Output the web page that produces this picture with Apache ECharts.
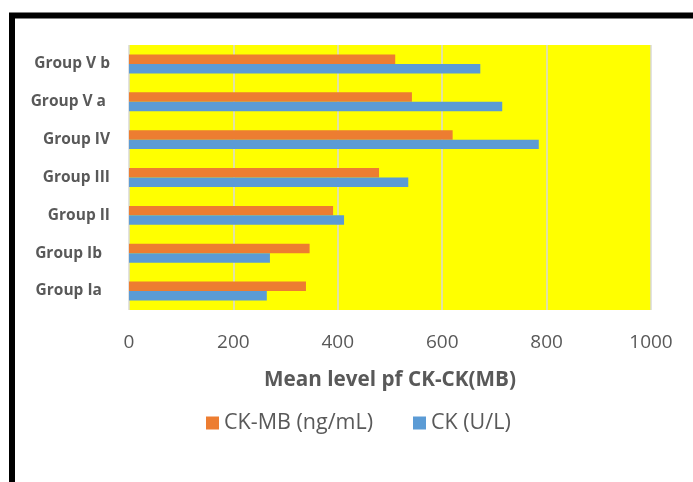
<!DOCTYPE html>
<html>
<head>
<meta charset="utf-8">
<script src="https://cdn.jsdelivr.net/npm/echarts@6/dist/echarts.min.js"></script>
<style>html,body{margin:0;padding:0;background:#fff}#c{width:693px;height:482px}</style>
</head>
<body>
<div id="c"></div>
<script>
const categories = ['Group Ia  ', 'Group Ib  ', 'Group II', 'Group III', 'Group IV', 'Group V a ', 'Group V b'];
const ckmbValues = [339, 346, 391, 479, 620, 542, 510];
const ckValues = [264, 270, 412, 535, 785, 715, 673];
const seriesNames = ['CK-MB (ng/mL)', 'CK (U/L)'];
const axisTitle = 'Mean level pf CK-CK(MB)';

const chart = echarts.init(document.getElementById('c'), null, {renderer: 'canvas'});
chart.setOption({
  animation: false,
  backgroundColor: '#ffffff',
  graphic: [{
    type: 'rect', silent: true, z: 100,
    shape: {x: 12, y: 15.5, width: 900, height: 700},
    style: {fill: 'none', stroke: '#000', lineWidth: 6}
  }],
  grid: {left: 129, right: 42, top: 45, bottom: 172, show: true, backgroundColor: '#FFFF00', borderWidth: 0},
  legend: {
    left: 201, top: 407, itemWidth: 13, itemHeight: 13, itemGap: 40,
    icon: 'rect',
    textStyle: {fontFamily: 'Open Sans', fontSize: 21.5, color: '#595959'},
    data: seriesNames
  },
  xAxis: {
    type: 'value', min: 0, max: 1000, interval: 200,
    name: axisTitle, nameLocation: 'middle', nameGap: 60,
    nameTextStyle: {fontFamily: 'Open Sans', fontWeight: 'bold', fontSize: 20.7, color: '#595959'},
    axisLine: {show: false}, axisTick: {show: false},
    axisLabel: {fontFamily: 'Open Sans', fontSize: 19, color: '#595959', margin: 23, formatter: function (v) { return String(v); }},
    splitLine: {show: true, lineStyle: {color: '#D9D9D9', width: 1.5}}
  },
  yAxis: {
    type: 'category', data: categories,
    axisLine: {show: false}, axisTick: {show: false},
    axisLabel: {fontFamily: 'Open Sans', fontWeight: 'bold', fontSize: 15.5, color: '#595959', margin: 19}
  },
  series: [
    {name: seriesNames[0], type: 'bar', data: ckmbValues, itemStyle: {color: '#ED7D31'}, barGap: '0%', barCategoryGap: '50%'},
    {name: seriesNames[1], type: 'bar', data: ckValues, itemStyle: {color: '#5B9BD5'}, barGap: '0%', barCategoryGap: '50%'}
  ]
});
</script>
</body>
</html>
